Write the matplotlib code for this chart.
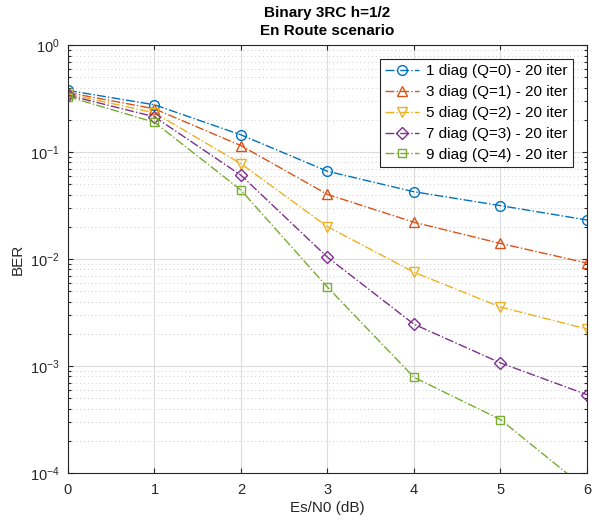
import matplotlib

matplotlib.use("Agg")
import matplotlib.pyplot as plt
from matplotlib.ticker import LogLocator, NullFormatter

plt.rcParams["font.family"] = ["Liberation Sans", "DejaVu Sans"]

# Es/N0 (dB)
snr_db = [0, 1, 2, 3, 4, 5, 6]

# BER per number of diagonals, 20 iterations
ber_q0 = [0.377, 0.277, 0.145, 0.0662, 0.0426, 0.0316, 0.0232]
ber_q1 = [0.36, 0.254, 0.115, 0.0402, 0.0221, 0.014, 0.00918]
ber_q2 = [0.35, 0.233, 0.0779, 0.0201, 0.00753, 0.00356, 0.00222]
ber_q3 = [0.34, 0.214, 0.0608, 0.0104, 0.00246, 0.00107, 0.00054]
ber_q4 = [0.33, 0.19, 0.0441, 0.00546, 0.000785, 0.000316, 0.00007]

labels = [
    "1 diag (Q=0) - 20 iter",
    "3 diag (Q=1) - 20 iter",
    "5 diag (Q=2) - 20 iter",
    "7 diag (Q=3) - 20 iter",
    "9 diag (Q=4) - 20 iter",
]
colors = ["#0072bd", "#d95319", "#edb120", "#7e2f8e", "#77ac30"]
markers = ["o", "^", "v", "D", "s"]
marker_sizes = [7, 7.5, 7.5, 6, 6]

fig = plt.figure(figsize=(6, 5.25), dpi=100)
ax = fig.add_axes([0.1133, 0.099, 0.865, 0.815])

for ber, lab, col, mk, ms in zip(
    [ber_q0, ber_q1, ber_q2, ber_q3, ber_q4], labels, colors, markers, marker_sizes
):
    ax.semilogy(
        snr_db, ber, linestyle="-.", color=col, marker=mk, markersize=ms,
        markerfacecolor="none", markeredgecolor=col, linewidth=1.0, label=lab,
    )

ax.set_xlim(0, 6)
ax.set_ylim(1e-4, 1)
ax.set_xticks(range(0, 7))
ax.yaxis.set_major_locator(LogLocator(base=10, numticks=10))
ax.yaxis.set_minor_locator(LogLocator(base=10, subs=range(2, 10), numticks=20))
ax.yaxis.set_minor_formatter(NullFormatter())

ax.grid(True, which="major", color="#dcdcdc", linestyle="-", linewidth=0.8)
ax.grid(True, which="minor", axis="y", color="#cccccc", linestyle=(0, (1, 3)), linewidth=0.7)
ax.set_axisbelow(True)

ax.tick_params(direction="in", which="both", top=True, right=True, labelsize=10.5,
               colors="#262626", width=0.8)
ax.tick_params(axis="x", pad=7)
ax.tick_params(axis="y", pad=6)
ax.tick_params(which="minor", length=2.5)
for sp in ax.spines.values():
    sp.set_color("#262626")
    sp.set_linewidth(0.8)

ax.set_xlabel("Es/N0 (dB)", fontsize=11, color="#262626", labelpad=3)
ax.set_ylabel("BER", fontsize=11, color="#262626")
ax.set_title("Binary 3RC h=1/2\nEn Route scenario", fontsize=11, fontweight="bold",
             color="#000000", linespacing=1.4, pad=7)

leg = ax.legend(loc="upper right", fontsize=11, fancybox=False, framealpha=1,
                edgecolor="#262626", borderaxespad=0.9, handlelength=2.2,
                labelspacing=0.45, borderpad=0.35, handletextpad=0.5)
leg.get_frame().set_linewidth(0.8)

fig.savefig("out.png", dpi=100)
